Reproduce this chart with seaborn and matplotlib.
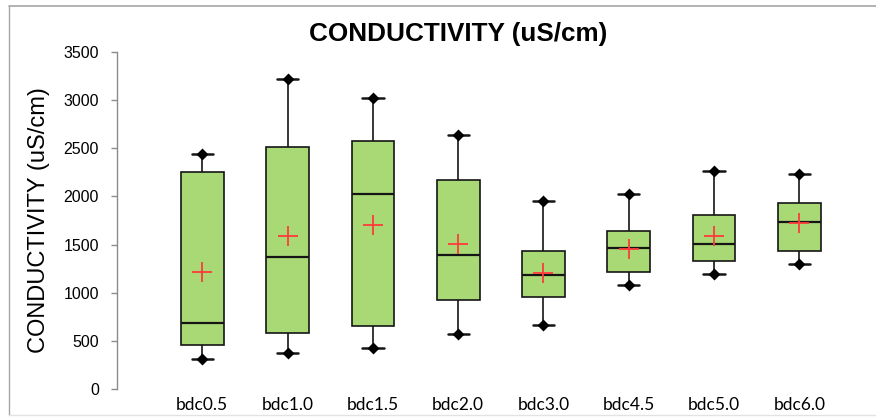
import numpy as np
import pandas as pd
import matplotlib
matplotlib.use("Agg")
import matplotlib.pyplot as plt
from matplotlib.lines import Line2D
import seaborn as sns

# Conductivity summary per sampling site (uS/cm)
categories = ["bdc0.5", "bdc1.0", "bdc1.5", "bdc2.0", "bdc3.0", "bdc4.5", "bdc5.0", "bdc6.0"]
minimum = [312, 370, 422, 575, 665, 1080, 1194, 1301]
q1 = [460, 585, 654, 924, 955, 1212, 1333, 1433]
median = [682, 1374, 2029, 1395, 1187, 1468, 1506, 1738]
q3 = [2250, 2517, 2572, 2174, 1433, 1641, 1804, 1928]
maximum = [2441, 3216, 3026, 2638, 1956, 2029, 2264, 2236]
mean = [1218, 1589, 1700, 1506, 1208, 1457, 1586, 1721]
y_ticks = [0, 500, 1000, 1500, 2000, 2500, 3000, 3500]

# Five-number summaries as long-form data; with whis=(0, 100) the box
# and whiskers land exactly on these values.
df = pd.DataFrame({
    "site": np.repeat(categories, 5),
    "value": np.ravel(np.column_stack([minimum, q1, median, q3, maximum])),
})

sns.set_theme(style="white")
plt.rcParams["font.family"] = ["Liberation Sans", "DejaVu Sans"]

W, H = 876, 417
fig = plt.figure(figsize=(W / 100, H / 100), dpi=100)
ax = fig.add_axes([117 / W, (H - 389) / H, (842 - 117) / W, (389 - 52) / H])

box_green = "#a9d975"
edge = "#151515"
sns.boxplot(
    data=df, x="site", y="value", order=categories, ax=ax,
    whis=(0, 100), width=0.5, color=box_green, saturation=1,
    linecolor=edge, linewidth=1.2, showfliers=False,
    medianprops=dict(color=edge, linewidth=1.6),
    capprops=dict(color=edge, linewidth=1.8),
)

# Diamond markers at whisker ends
for ends in (minimum, maximum):
    sns.pointplot(
        x=categories, y=ends, order=categories, ax=ax, linestyle="none",
        marker="D", color="black", markersize=3.6, errorbar=None, zorder=5,
    )

# Mean as red plus
sns.pointplot(
    x=categories, y=mean, order=categories, ax=ax, linestyle="none",
    marker="+", color="#ff3b3b", markersize=15, markeredgewidth=1.3,
    errorbar=None, zorder=6,
)

ax.set_xlim(-1.0, 7.5)
ax.set_ylim(0, 3500)
ax.set_yticks(y_ticks)
ax.set_xlabel("")
ax.set_ylabel("CONDUCTIVITY (uS/cm)", fontsize=17, color="black")
ax.yaxis.set_label_coords(-0.093, 0.5)

for side in ("top", "right", "bottom"):
    ax.spines[side].set_visible(False)
ax.spines["left"].set_color("#8c8c8c")
ax.spines["left"].set_linewidth(1.0)

ax.tick_params(axis="y", which="major", left=True, length=4, width=1.0,
               color="#8c8c8c", pad=9, labelsize=11.5, labelcolor="black")
ax.tick_params(axis="x", which="major", bottom=False, length=0, pad=6,
               labelsize=12.5, labelcolor="black")
for lab in ax.get_xticklabels():
    lab.set_fontfamily(["Lato", "DejaVu Sans"])

fig.text(458 / W, 1 - 34 / H, "CONDUCTIVITY (uS/cm)", ha="center", va="center",
         fontsize=18.8, fontweight="bold", color="black")

# Chart frame
fig.add_artist(Line2D([9 / W, 9 / W], [1 - 6 / H, 1 - 415 / H],
                      transform=fig.transFigure, color="#a6a6a6", lw=1.0))
fig.add_artist(Line2D([9 / W, 1.0], [1 - 6 / H, 1 - 6 / H],
                      transform=fig.transFigure, color="#a6a6a6", lw=1.2))
fig.add_artist(Line2D([9 / W, 1.0], [1 - 415 / H, 1 - 415 / H],
                      transform=fig.transFigure, color="#e3e3e3", lw=1.0))

fig.savefig("out.png", dpi=100)
